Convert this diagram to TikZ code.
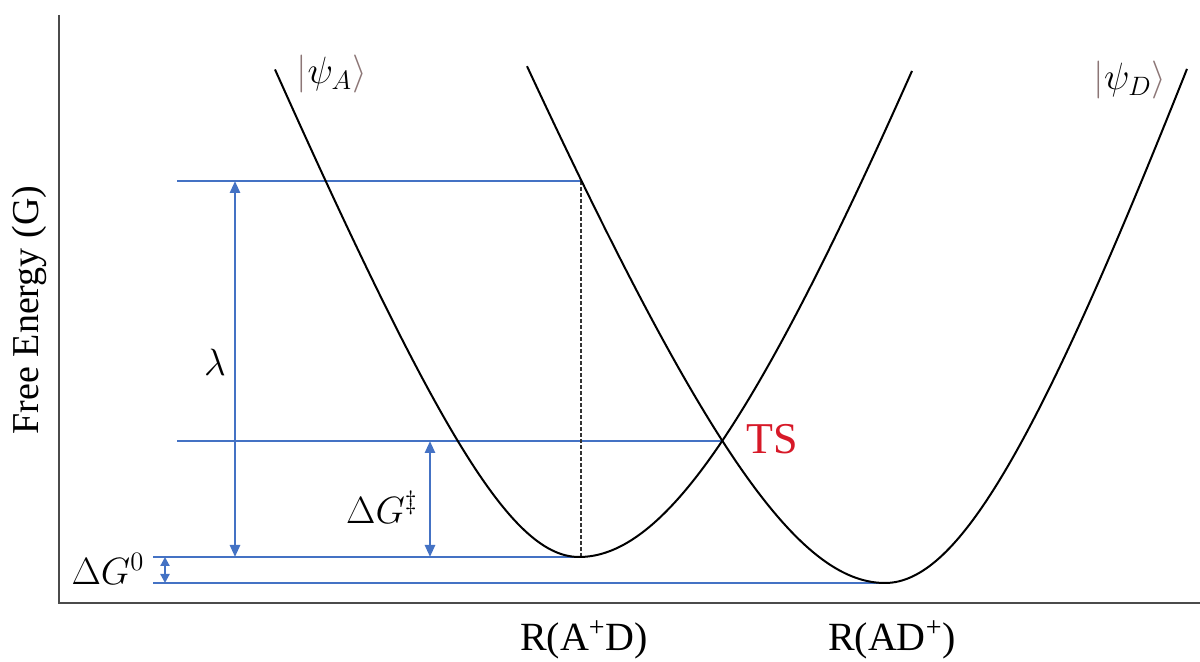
\documentclass[tikz,border=0pt]{standalone}
\usepackage{fix-cm}
\usepackage[no-math]{fontspec}
\setmainfont{Liberation Serif}
\usetikzlibrary{arrows.meta}
\definecolor{lineblue}{RGB}{68,114,196}
\definecolor{tsred}{RGB}{215,25,40}
\definecolor{ketgray}{RGB}{140,118,118}
\definecolor{axisgray}{RGB}{75,75,75}
\begin{document}
\begin{tikzpicture}[x=0.5pt,y=-0.5pt,
  curve/.style={line width=1pt, black, line join=round},
  level/.style={lineblue, line width=0.6pt},
  gaparrow/.style={lineblue, line width=1.3pt, {Triangle[width=5pt,length=6pt]}-{Triangle[width=5pt,length=6pt]}},
  smallarrow/.style={lineblue, line width=1.1pt, {Triangle[width=4.5pt,length=4.5pt]}-{Triangle[width=4.5pt,length=4.5pt]}},
  axisline/.style={axisgray, line width=1pt},
  dashline/.style={black!80, line width=0.6pt, dash pattern=on 2pt off 1pt},
  lbl/.style={font={\fontsize{19}{22}\selectfont}, inner sep=0pt},
  rlbl/.style={font={\fontsize{20}{24}\selectfont}, inner sep=0pt},
  tslbl/.style={font={\fontsize{22}{26}\selectfont}, text=tsred, inner sep=0pt}]
\useasboundingbox (0,0) rectangle (1200,662);

% axes
\coordinate (axT) at (59,15);
\coordinate (axO) at (59,603);
\coordinate (axR) at (1200,603);
\draw[axisline] (axT) -- (axO) -- (axR);

% level lines
\coordinate (topL) at (177,181); \coordinate (topR) at (581,181);
\coordinate (tsL) at (177,441);  \coordinate (tsR) at (722,441);
\coordinate (aL) at (153,557);   \coordinate (aR) at (579,557);
\coordinate (dL) at (153,583);   \coordinate (dR) at (885,583);
\draw[level] (topL) -- (topR);
\draw[level] (tsL) -- (tsR);
\draw[level, line width=0.9pt] (aL) -- (aR);
\draw[level] (dL) -- (dR);

% dashed vertical
\coordinate (vT) at (581,181); \coordinate (vB) at (581,557);
\draw[dashline] (vT) -- (vB);

% gap arrows
\coordinate (lamT) at (235,181); \coordinate (lamB) at (235,557);
\coordinate (dgtT) at (430,441); \coordinate (dgtB) at (430,557);
\coordinate (dg0T) at (165,557); \coordinate (dg0B) at (165,583);
\draw[gaparrow] (lamT) -- (lamB);
\draw[gaparrow] (dgtT) -- (dgtB);
\draw[smallarrow] (dg0T) -- (dg0B);

% curve |psi_A> (minimum at 579,557)
\draw[curve] plot[domain=275:579, samples=90]
  (\x, {557-243*(sqrt(((\x-579)/100)^2+1.69)-1.3)})
  -- plot[domain=579:912, samples=90]
  (\x, {557-268*(sqrt(((\x-579)/100)^2+4.6225)-2.15)});
% curve |psi_D> (minimum at 885,583)
\draw[curve] plot[domain=527:885, samples=100]
  (\x, {583-246*(sqrt(((\x-885)/100)^2+4)-2)})
  -- plot[domain=885:1187, samples=90]
  (\x, {583-287*(sqrt(((\x-885)/100)^2+2.7225)-1.65)});

% labels
\node[lbl, rotate=90] (ylab) at (29,310) {Free Energy (G)};
\node[lbl] (lam) at (215,362) {$\lambda$};
\node[lbl] (dgt) at (382,507) {$\Delta G^{\ddagger}$};
\node[lbl] (dg0) at (108,569) {$\Delta G^{0}$};
\node[tslbl] (ts) at (772,439) {TS};
\node[lbl] (psiA) at (332,74) {$\textcolor{ketgray}{|}\psi_A\textcolor{ketgray}{\rangle}$};
\node[lbl] (psiD) at (1130,80) {$\textcolor{ketgray}{|}\psi_D\textcolor{ketgray}{\rangle}$};
\node[rlbl] (rapd) at (584,640) {R(A\textsuperscript{+}D)};
\node[rlbl] (radp) at (892,640) {R(AD\textsuperscript{+})};
\end{tikzpicture}
\end{document}
